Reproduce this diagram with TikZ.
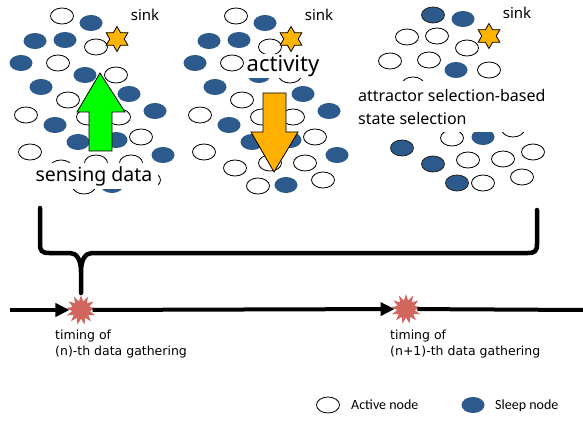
\documentclass[tikz,border=0pt]{standalone}
\usepackage{fontspec}
\setmainfont{Noto Sans}
\newfontfamily\timefont{DejaVu Sans}
\newfontfamily\legendfont{Carlito}
\usetikzlibrary{shapes.geometric,arrows.meta}

\definecolor{sleepblue}{RGB}{44,90,140}
\definecolor{sinkorange}{RGB}{255,180,0}
\definecolor{burstred}{RGB}{208,102,94}
\definecolor{upgreen}{RGB}{0,255,0}
\definecolor{downorange}{RGB}{255,176,0}

\tikzset{
  active/.style={ellipse,draw=black,line width=0.8pt,fill=white,
    minimum width=23pt,minimum height=16pt,inner sep=0pt},
  sleep/.style={ellipse,fill=sleepblue,
    minimum width=23pt,minimum height=16pt,inner sep=0pt},
  sleepb/.style={sleep,draw=black!85,line width=0.8pt},
  sinkstar/.style={star,star points=6,star point ratio=1.73,draw=black,
    line width=0.8pt,fill=sinkorange,minimum size=25pt,inner sep=0pt},
  burst/.style={star,star points=13,star point ratio=1.7,fill=burstred,
    minimum size=30pt,inner sep=0pt},
  timeline/.style={line width=4pt},
}

% one field of sensor nodes with its sink
\newcommand{\drawfield}[1]{%
  \foreach \x/\y [count=\i] in {236/16,270/47,232/63,290/75,242/100,200/115,
      262/117,293/117,315/137,204/152,235/168,270/163,305/163,258/186,323/180}
    \node[active] (#1a\i) at (\x,\y) {};
  \foreach \x/\y [count=\i] in {265/23,209/41,239/40,195/63,259/75,215/87,
      303/94,329/111,229/125,252/142,290/140,337/155,286/185}
    \node[sleep] (#1s\i) at (\x,\y) {};
  \node[sinkstar] (#1sink) at (291,39) {};
  \node[font=\fontsize{15}{18}\selectfont] (#1sinklabel) at (319,15) {sink};
}

\begin{document}
\begin{tikzpicture}[x=1pt,y=-1pt]
  \fill[white] (0,0) rectangle (583,422);
  \useasboundingbox (0,0) rectangle (583,422);

  % first field, sensing data goes up
  \begin{scope}[xshift=-174]
    \drawfield{p}
  \end{scope}
  \draw[fill=upgreen,line width=0.8pt] (100,73) -- (125,112) -- (112,112)
    -- (112,151) -- (89,151) -- (89,112) -- (77,112) -- cycle;
  \node[fill=white,inner xsep=6pt,inner ysep=3pt,
    font=\fontsize{19.5}{22}\selectfont] (sensing) at (94,176) {sensing data};

  % second field, activity goes down
  \drawfield{q}
  \node[fill=white,inner sep=1pt,font=\fontsize{22}{24}\selectfont]
    (activity) at (283,66) {activity};
  \draw[fill=downorange,line width=0.8pt] (263,93) -- (286,93) -- (286,132)
    -- (298,132) -- (274,172) -- (251,132) -- (263,132) -- cycle;

  % third field after the state selection
  \foreach \x/\y [count=\i] in {407/37,437/36,467/48,390/61,429/60,489/70,
      413/85,452/138,513/129,533/152,468/160,503/159,483/183,522/177}
    \node[active] (ra\i) at (\x,\y) {};
  \foreach \x/\y [count=\i] in {463/19,456/70,483/137}
    \node[sleep] (rs\i) at (\x,\y) {};
  \foreach \x/\y [count=\i] in {433/15,402/148,433/164,457/183}
    \node[sleepb] (rb\i) at (\x,\y) {};
  \node[sinkstar] (rsink) at (489,36) {};
  \node[font=\fontsize{15}{18}\selectfont] (rsinklabel) at (517,13) {sink};
  \fill[white] (356,81) rectangle (578,132);
  \node[anchor=base west,inner sep=0pt,font=\fontsize{16}{20}\selectfont]
    (attr1) at (358,102) {attractor selection-based};
  \node[anchor=base west,inner sep=0pt,font=\fontsize{16}{20}\selectfont]
    (attr2) at (358,125) {state selection};

  % brace over one gathering period
  \draw[line width=4.5pt,line cap=round,line join=round]
    (40,208) -- (40,244) .. controls (40,251) and (42,253) .. (49,253)
    -- (70,253) .. controls (77,253) and (81,260) .. (81,272) -- (81,293)
    (81,272) .. controls (81,260) and (85,253) .. (92,253)
    -- (528,253) .. controls (535,253) and (537,251) .. (537,244)
    -- (537,210);

  % time axis
  \node[burst] (tn) at (81,310) {};
  \node[burst] (tn1) at (406,309) {};
  \coordinate (tstart) at (10,310);
  \coordinate (tend) at (583,310);
  \draw[timeline,-{Triangle[length=14pt,width=13pt]}] (tstart) -- (tn);
  \draw[timeline,-{Triangle[length=14pt,width=13pt]}] (tn) -- (tn1);
  \draw[timeline] (tn1) -- (tend);

  \node[anchor=base west,inner sep=0pt,font=\timefont\fontsize{12.5}{16}\selectfont]
    (tlab1) at (55,339) {timing of};
  \node[anchor=base west,inner sep=0pt,font=\timefont\fontsize{12.5}{16}\selectfont]
    (tlab2) at (55,355) {(n)-th data gathering};
  \node[anchor=base west,inner sep=0pt,font=\timefont\fontsize{12.5}{16}\selectfont]
    (tlab3) at (390,339) {timing of};
  \node[anchor=base west,inner sep=0pt,font=\timefont\fontsize{12.5}{16}\selectfont]
    (tlab4) at (390,355) {(n+1)-th data gathering};

  % legend
  \node[active] (legact) at (328,405) {};
  \node[anchor=base west,inner sep=0pt,font=\legendfont\fontsize{14}{16}\selectfont]
    (legactlabel) at (351,409) {Active node};
  \node[sleep] (legsleep) at (473,405) {};
  \node[anchor=base west,inner sep=0pt,font=\legendfont\fontsize{14}{16}\selectfont]
    (legsleeplabel) at (495,409) {Sleep node};
\end{tikzpicture}
\end{document}
